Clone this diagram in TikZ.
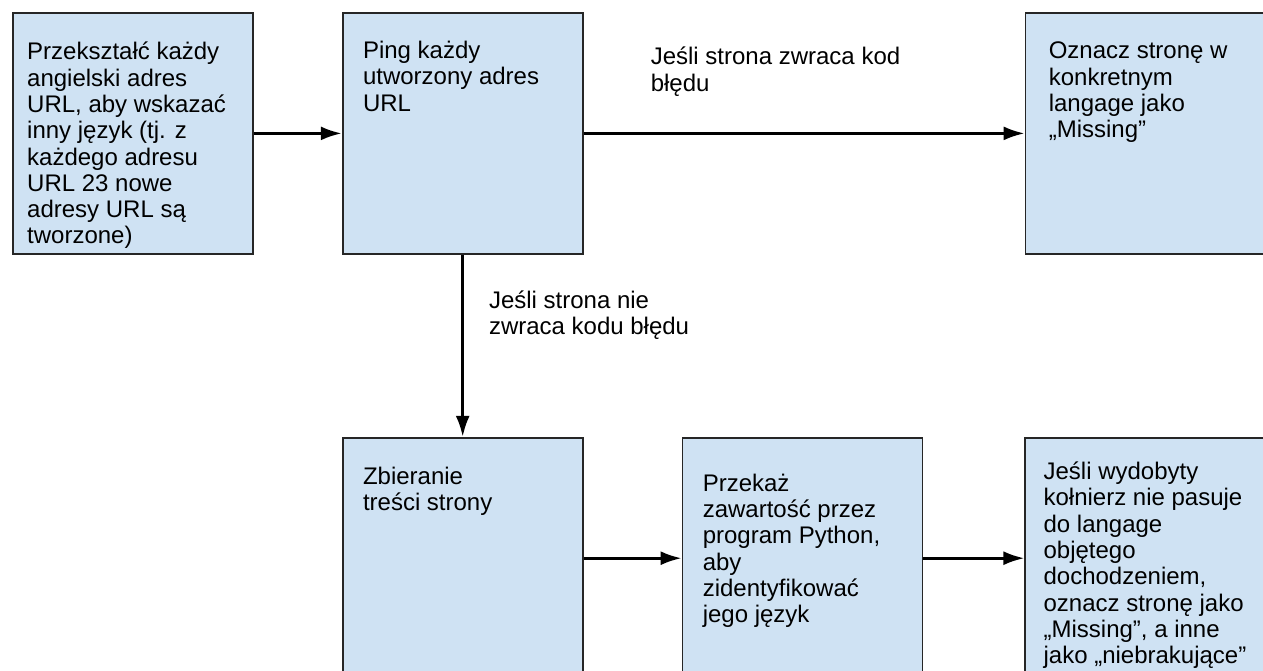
\documentclass[tikz,border=0pt]{standalone}
\usepackage{fontspec}
\setmainfont{Liberation Sans}
\usepackage{tikz}
\usetikzlibrary{arrows.meta,positioning}
\definecolor{boxblue}{HTML}{CFE2F3}

\begin{document}
\begin{tikzpicture}[
  x=1pt,y=1pt,
  stepbox/.style={draw=black!85,line width=1.8pt,fill=boxblue,inner sep=0pt,
                  minimum width=240pt,minimum height=241pt},
  btext/.style={anchor=north west,align=left,inner sep=0pt,
                font=\fontsize{24}{26.3}\selectfont},
  elabel/.style={btext},
  flow/.style={-{Latex[length=21pt,width=14pt]},draw=black,line width=2.8pt}]

\clip (0,0) rectangle (1263,-671);

% row 1 -- build and ping the urls
\node[stepbox,anchor=north west] (convert) at (12,-12) {};
\node[stepbox,right=88pt of convert] (ping) {};
\node[stepbox,right=441pt of ping] (missing) {};

% row 2 -- scrape and detect language
\node[stepbox,below=182pt of ping] (scrape) {};
\node[stepbox,right=98pt of scrape] (detect) {};
\node[stepbox,right=101pt of detect] (compare) {};

% box texts
\node[btext] (convert-t) at ([shift={(15pt,-30pt)}]convert.north west) {Przekształć każdy\\angielski adres\\URL, aby wskazać\\inny język (tj. z\\każdego adresu\\URL 23 nowe\\adresy URL są\\tworzone)};
\node[btext] (ping-t) at ([shift={(21pt,-29pt)}]ping.north west) {Ping każdy\\utworzony adres\\URL};
\node[btext] (missing-t) at ([shift={(24pt,-30pt)}]missing.north west) {Oznacz stronę w\\konkretnym\\langage jako\\„Missing”};
\node[btext] (scrape-t) at ([shift={(21pt,-30pt)}]scrape.north west) {Zbieranie\\treści strony};
\node[btext] (detect-t) at ([shift={(21pt,-37pt)}]detect.north west) {Przekaż\\zawartość przez\\program Python,\\aby\\zidentyfikować\\jego język};
\node[btext] (compare-t) at ([shift={(19pt,-25pt)}]compare.north west) {Jeśli wydobyty\\kołnierz nie pasuje\\do langage\\objętego\\dochodzeniem,\\oznacz stronę jako\\„Missing”, a inne\\jako „niebrakujące”};

% edge labels
\node[elabel] (errlbl) at ([shift={(67pt,-35pt)}]ping.north east) {Jeśli strona zwraca kod\\błędu};
\node[elabel] (oklbl) at ([shift={(147pt,-36pt)}]ping.south west) {Jeśli strona nie\\zwraca kodu błędu};

\draw[flow] (convert) -- (ping);
\draw[flow] (ping) -- (missing);
\draw[flow] (ping) -- (scrape);
\draw[flow] (scrape) -- (detect);
\draw[flow] (detect) -- (compare);

\end{tikzpicture}
\end{document}
